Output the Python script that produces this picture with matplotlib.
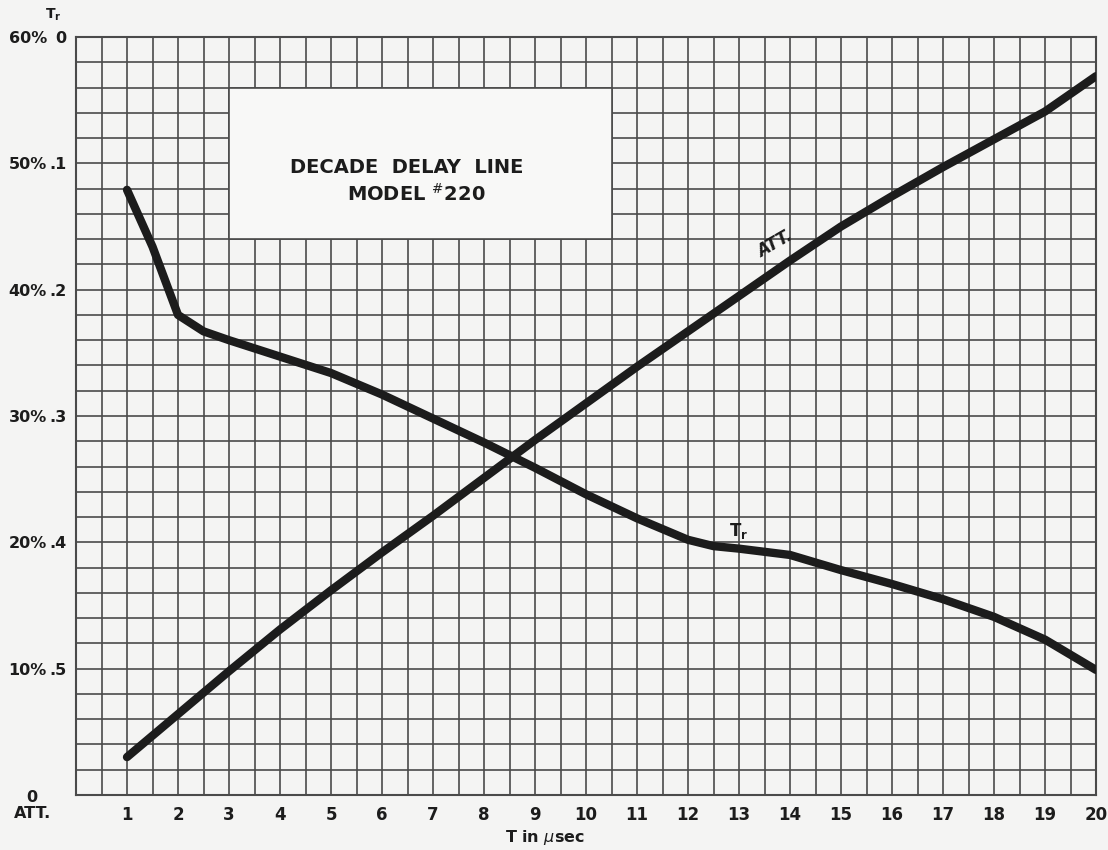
import matplotlib
matplotlib.use("Agg")
import matplotlib.pyplot as plt
from matplotlib.patches import Rectangle

# values
T_att = [1, 2, 3, 4, 5, 6, 7, 8, 9, 10, 11, 12, 13, 14, 15, 16, 17, 18, 19, 20]
att_pct = [3.0, 6.4, 9.8, 13.1, 16.2, 19.2, 22.1, 25.1, 28.1, 31.0, 33.9, 36.7,
           39.5, 42.3, 45.0, 47.4, 49.7, 51.9, 54.1, 56.9]

T_tr = [1, 1.5, 2, 2.5, 3, 4, 5, 6, 7, 8, 9, 10, 11, 12, 12.5, 13, 14, 15, 16,
        17, 18, 19, 20]
tr_val = [.121, .166, .220, .233, .240, .253, .266, .283, .302, .321, .341, .362,
          .381, .398, .403, .405, .410, .422, .433, .445, .459, .477, .501]

x_ticks = list(range(1, 21))
pct_ticks = [0, 10, 20, 30, 40, 50, 60]
pct_labels = ["", "10%", "20%", "30%", "40%", "50%", "60%"]
tr_ticks = [0, .1, .2, .3, .4, .5]
tr_labels = ["0", ".1", ".2", ".3", ".4", ".5"]

paper = "#f4f4f3"
ink = "#1c1c1c"
grid_col = "#4a4a4a"


def tr2pct(t):
    return 60 - 100 * t


def pct2tr(p):
    return (60 - p) / 100


fig = plt.figure(figsize=(11.08, 8.5), dpi=100, facecolor=paper)
ax = fig.add_axes([0.0686, 0.0647, 0.9206, 0.8918], facecolor=paper)

ax.set_xlim(0, 20)
ax.set_ylim(0, 60)
ax.set_xticks(x_ticks)
ax.set_xticks([i * 0.5 for i in range(41)], minor=True)
ax.set_yticks(pct_ticks)
ax.set_yticks(list(range(0, 61, 2)), minor=True)
ax.set_axisbelow(True)
ax.grid(True, which="both", color=grid_col, linewidth=1.2)
for s in ax.spines.values():
    s.set_color(grid_col)
    s.set_linewidth(1.5)

ax.set_yticklabels(pct_labels, fontsize=11.5, fontweight="bold", color=ink)
ax.set_xticklabels([str(v) for v in x_ticks], fontsize=12, fontweight="bold", color=ink)
ax.tick_params(which="both", length=0)
ax.tick_params(axis="y", pad=21)
ax.tick_params(axis="x", pad=8)

sec = ax.secondary_yaxis("left", functions=(pct2tr, tr2pct))
sec.set_yticks(tr_ticks)
sec.set_yticklabels(tr_labels, fontsize=11.5, fontweight="bold", color=ink)
sec.tick_params(length=0, pad=7)
sec.spines["left"].set_visible(False)

# title block on the paper
ax.add_patch(Rectangle((3, 44), 7.5, 12, facecolor="#f8f8f7", edgecolor=grid_col,
                       linewidth=1.2, zorder=1))
ax.text(6.49, 49.7, "DECADE  DELAY  LINE", ha="center", va="center",
        fontsize=14, fontweight="bold", color=ink, zorder=2)
ax.text(6.67, 47.6, r"MODEL $^{\#}$220", ha="center", va="center",
        fontsize=14, fontweight="bold", color=ink, zorder=2)

ax.plot(T_att, att_pct, color=ink, linewidth=6, solid_capstyle="round",
        solid_joinstyle="round", zorder=3)
ax.plot(T_tr, [tr2pct(t) for t in tr_val], color=ink, linewidth=6,
        solid_capstyle="round", solid_joinstyle="round", zorder=3)

ax.text(13.7, 43.6, "ATT.", rotation=30, ha="center", va="center", fontsize=12,
        fontweight="bold", style="italic", color=ink, zorder=4)
ax.text(13.0, 20.9, r"T$_\mathregular{r}$", ha="center", va="center", fontsize=12,
        fontweight="bold", color=ink, zorder=4)

# corner labels
ax.text(-0.043, -0.014, "0\nATT.", transform=ax.transAxes, ha="center", va="center",
        fontsize=11.5, fontweight="bold", color=ink, linespacing=1.1)
ax.text(-0.022, 1.029, r"T$_\mathregular{r}$", transform=ax.transAxes, ha="center",
        va="center", fontsize=10, fontweight="bold", color=ink)

ax.set_xlabel(r"T in $\mu$sec", fontsize=11.5, fontweight="bold", color=ink)
ax.xaxis.set_label_coords(0.46, -0.043)

fig.savefig("out.png", dpi=100, facecolor=paper)
